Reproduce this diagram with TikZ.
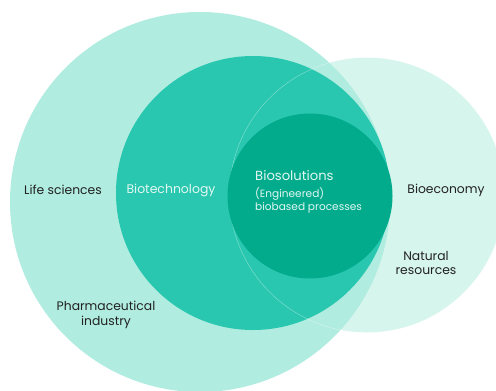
\documentclass[tikz,border=0pt]{standalone}
\usepackage{xcolor}
\usepackage{fontspec}
\setmainfont{Poppins}
\usepackage{tikz}
\definecolor{lifemint}{HTML}{B0ECE0}
\definecolor{ecomint}{HTML}{D6F5EC}
\definecolor{techteal}{HTML}{29C7AF}
\definecolor{solteal}{HTML}{02AB8C}
\definecolor{labeldark}{HTML}{222222}
\definecolor{labellight}{HTML}{E2F7F2}

\begin{document}
\begin{tikzpicture}[x=1bp, y=-1bp,
    ring/.style={circle, inner sep=0pt, outer sep=0pt, minimum size=#1},
    darklabel/.style={text=labeldark, font=\fontsize{12.4}{15}\selectfont, align=center, inner sep=0pt},
    lightlabel/.style={text=labellight, font=\fontsize{12.5}{15}\selectfont, inner sep=0pt}]
    \useasboundingbox (0,0) rectangle (496,390);
    \clip (0,0) rectangle (496,390);

    % Circles
    \node[ring=275bp, fill=ecomint] (bioeco) at (367,195) {};
    \node[ring=380bp, fill=lifemint] (life) at (200,202) {};
    \node[ring=274bp, fill=techteal] (biotech) at (253,193) {};
    \node[ring=275bp, draw=white, draw opacity=0.45, line width=0.4pt] (ecoline) at (367,195) {};
    \node[ring=165bp, fill=solteal] (biosol) at (310,196) {};

    % Labels
    \node[darklabel] (lifelabel) at (63,190) {Life sciences};
    \node[darklabel] (pharma) at (106,315) {Pharmaceutical\\industry};
    \node[lightlabel] (techlabel) at (171,190) {Biotechnology};
    \node[lightlabel, anchor=west, font=\fontsize{13.2}{15}\selectfont] (sollabel) at (255,176) {Biosolutions};
    \node[lightlabel, anchor=west, font=\fontsize{10.6}{13}\selectfont] (engineered) at (255,194) {(Engineered)};
    \node[lightlabel, anchor=west, font=\fontsize{10.6}{13}\selectfont] (biobased) at (255,208) {biobased processes};
    \node[darklabel] (ecolabel) at (446,190) {Bioeconomy};
    \node[darklabel] (natural) at (426,263) {Natural\\resources};
\end{tikzpicture}
\end{document}
